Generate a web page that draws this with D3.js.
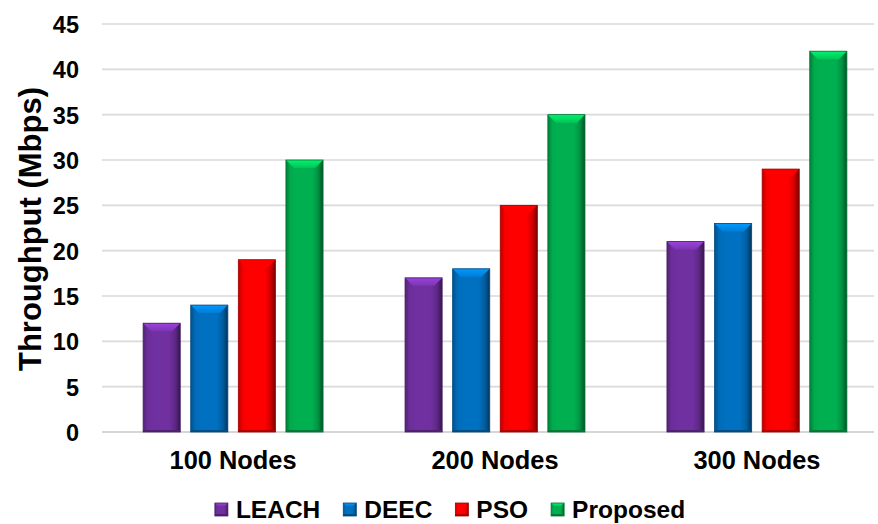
<!DOCTYPE html>
<html>
<head>
<meta charset="utf-8">
<script src="https://cdn.jsdelivr.net/npm/d3@7"></script>
<style>
  html, body { margin: 0; padding: 0; background: #fff; }
  svg { display: block; font-family: Arial, "Liberation Sans", sans-serif; }
</style>
</head>
<body>
<svg id="chart" width="878" height="524"></svg>
<script>
// Throughput per network size for each protocol
const categories = ["100 Nodes", "200 Nodes", "300 Nodes"];
const seriesNames = ["LEACH", "DEEC", "PSO", "Proposed"];
const leach = [12, 17, 21];
const deec = [14, 18, 23];
const pso = [19, 25, 29];
const proposed = [30, 35, 42];
const yTicks = [0, 5, 10, 15, 20, 25, 30, 35, 40, 45];
const seriesColors = ["#7030A0", "#0070C0", "#FF0000", "#00B050"];

const seriesValues = [leach, deec, pso, proposed];

const svg = d3.select("#chart");
const defs = svg.append("defs");

const x0 = d3.scaleBand().domain(categories).range([102, 888])
  .paddingInner(0.313).paddingOuter(0.157);
const x1 = d3.scaleBand().domain(seriesNames).range([0, x0.bandwidth()])
  .paddingInner(0.22).paddingOuter(0);
const y = d3.scaleLinear().domain([0, 45]).range([432, 24]);
const color = d3.scaleOrdinal().domain(seriesNames).range(seriesColors);

// Gradients giving each bar a bevelled, rounded look
seriesNames.forEach((s, i) => {
  const c = d3.color(color(s));
  const g = defs.append("linearGradient").attr("id", "body" + i)
    .attr("x1", "0").attr("x2", "1").attr("y1", "0").attr("y2", "0");
  [[0, c.darker(0.9)], [0.12, c.darker(0.1)], [0.3, c], [0.7, c],
   [0.86, c.darker(0.5)], [0.95, c.darker(1.4)], [1, c.darker(2.2)]]
    .forEach(([o, col]) => g.append("stop").attr("offset", o).attr("stop-color", col));
  const t = defs.append("linearGradient").attr("id", "top" + i)
    .attr("x1", "0").attr("x2", "0").attr("y1", "0").attr("y2", "1");
  [[0, c.brighter(0.9)], [1, c.brighter(0.3)]]
    .forEach(([o, col]) => t.append("stop").attr("offset", o).attr("stop-color", col));
});

// Grid lines
svg.append("g").selectAll("line").data(yTicks).join("line")
  .attr("x1", 102).attr("x2", 874)
  .attr("y1", d => y(d)).attr("y2", d => y(d))
  .attr("stroke", d => d === 0 ? "#c8c8c8" : "#dadada")
  .attr("stroke-width", 1.6);

// Y axis tick labels
const yAxis = d3.axisLeft(y).tickValues(yTicks).tickSize(0).tickPadding(0);
const yg = svg.append("g").attr("transform", "translate(79,0)").call(yAxis);
yg.select(".domain").remove();
yg.selectAll("text")
  .attr("font-size", 23.5).attr("font-weight", "bold").attr("fill", "#000")
  .attr("font-family", "Arial, 'Liberation Sans', sans-serif")
  .attr("dy", "0.36em");

// Y axis title
svg.append("text")
  .attr("transform", "translate(41,229) rotate(-90)")
  .attr("text-anchor", "middle")
  .attr("font-size", 31).attr("font-weight", "bold").attr("fill", "#000")
  .text("Throughput (Mbps)");

// X axis labels
const xAxis = d3.axisBottom(x0).tickSize(0).tickPadding(0);
const xg = svg.append("g").attr("transform", "translate(0,469)").call(xAxis);
xg.select(".domain").remove();
xg.selectAll(".tick text")
  .attr("font-size", 25.4).attr("font-weight", "bold").attr("fill", "#000")
  .attr("font-family", "Arial, 'Liberation Sans', sans-serif")
  .attr("dy", 0).attr("y", 0);

// Bevelled bar shape
function drawBevel(sel, w, h, i, bevel) {
  sel.append("rect").attr("width", w).attr("height", h)
    .attr("fill", `url(#body${i})`);
  const b = Math.min(bevel, h / 2);
  sel.append("path")
    .attr("d", `M0,0 L${w},0 L${w - b},${b} L${b},${b} Z`)
    .attr("fill", `url(#top${i})`);
  sel.append("rect").attr("x", 0).attr("y", Math.max(h - 2, 0))
    .attr("width", w).attr("height", Math.min(2, h))
    .attr("fill", d3.color(color(seriesNames[i])).darker(1));
  sel.append("rect").attr("width", w).attr("height", h)
    .attr("fill", "none")
    .attr("stroke", d3.color(color(seriesNames[i])).darker(1.2))
    .attr("stroke-width", 0.8);
}

// Bars
const groups = svg.append("g").selectAll("g").data(categories).join("g")
  .attr("transform", d => `translate(${x0(d)},0)`);
groups.each(function(cat, ci) {
  const g = d3.select(this);
  seriesNames.forEach((s, si) => {
    const v = seriesValues[si][ci];
    const bar = g.append("g")
      .attr("transform", `translate(${x1(s)},${y(v)})`);
    drawBevel(bar, x1.bandwidth(), y(0) - y(v), si, 8);
  });
});

// Legend
const legend = svg.append("g");
const items = legend.selectAll("g").data(seriesNames).join("g");
items.each(function(s, i) {
  const g = d3.select(this);
  const m = g.append("g").attr("transform", "translate(0,-15)");
  drawBevel(m, 13, 13, i, 3);
  g.append("text").attr("x", 21).attr("y", 0)
    .attr("font-size", 24.5).attr("font-weight", "bold").attr("fill", "#000")
    .text(s);
});
let cursor = 0;
const positions = [];
const gap = 23;
items.each(function() {
  positions.push(cursor);
  const w = 21 + d3.select(this).select("text").node().getComputedTextLength();
  cursor += w + gap;
});
const total = cursor - gap;
const startX = 450 - total / 2;
items.attr("transform", (d, i) => `translate(${startX + positions[i]},518)`);
</script>
</body>
</html>
